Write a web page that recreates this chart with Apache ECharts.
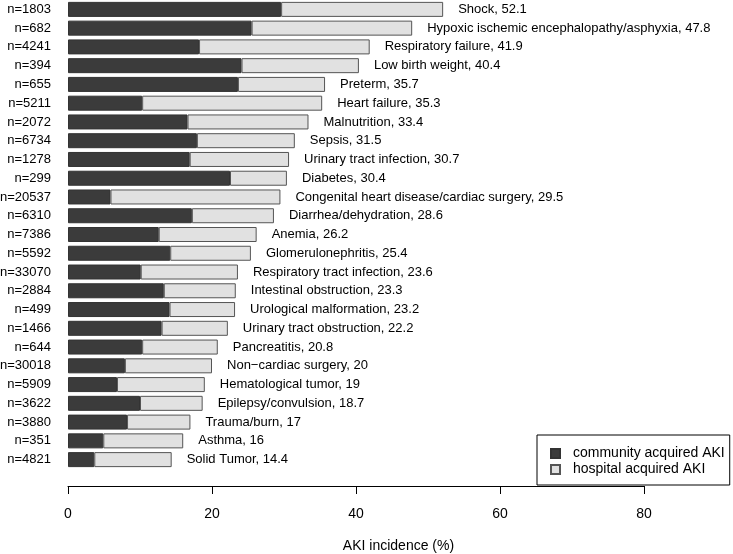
<!DOCTYPE html>
<html>
<head>
<meta charset="utf-8">
<script src="https://cdn.jsdelivr.net/npm/echarts@6/dist/echarts.min.js"></script>
<style>html,body{margin:0;padding:0;background:#fff}#c{width:733px;height:554px}</style>
</head>
<body>
<div id="c"></div>
<script>
const categories = ["Shock","Hypoxic ischemic encephalopathy/asphyxia","Respiratory failure","Low birth weight","Preterm","Heart failure","Malnutrition","Sepsis","Urinary tract infection","Diabetes","Congenital heart disease/cardiac surgery","Diarrhea/dehydration","Anemia","Glomerulonephritis","Respiratory tract infection","Intestinal obstruction","Urological malformation","Urinary tract obstruction","Pancreatitis","Non\u2212cardiac surgery","Hematological tumor","Epilepsy/convulsion","Trauma/burn","Asthma","Solid Tumor"];
const nValues = [1803,682,4241,394,655,5211,2072,6734,1278,299,20537,6310,7386,5592,33070,2884,499,1466,644,30018,5909,3622,3880,351,4821];
const totals = [52.1,47.8,41.9,40.4,35.7,35.3,33.4,31.5,30.7,30.4,29.5,28.6,26.2,25.4,23.6,23.3,23.2,22.2,20.8,20,19,18.7,17,16,14.4];
const community = [29.6,25.5,18.2,24.1,23.6,10.3,16.6,17.9,16.9,22.5,5.9,17.2,12.6,14.2,10.1,13.3,14.1,13.0,10.3,7.9,6.8,10.0,8.2,4.9,3.65];
const hospital = [22.5,22.3,23.7,16.3,12.1,25.0,16.8,13.6,13.8,7.9,23.6,11.4,13.6,11.2,13.5,10.0,9.1,9.2,10.5,12.1,12.2,8.7,8.8,11.1,10.75];
const xTicks = [0,20,40,60,80];

const FONT = "Liberation Sans, Arial, Helvetica, sans-serif";
const chart = echarts.init(document.getElementById('c'), null, {renderer:'canvas'});
chart.setOption({
  animation: false,
  textStyle: {fontFamily: FONT},
  grid: [
    {left: 68, width: 661, top: 0, height: 469, outerBoundsMode: 'none', containLabel: false},
    {left: 68, width: 576, top: 0, height: 486, outerBoundsMode: 'none', containLabel: false}
  ],
  legend: {
    orient: 'vertical', left: 537, top: 435,
    padding: [11, 5, 8, 13],
    borderColor: '#000', borderWidth: 1,
    itemWidth: 9, itemHeight: 9, itemGap: 1,
    icon: 'rect',
    textStyle: {fontSize: 14, color: '#000', fontFamily: FONT, lineHeight: 15, padding: [0,0,0,8]},
    data: ['community acquired AKI', 'hospital acquired AKI']
  },
  xAxis: [
    {type: 'value', gridIndex: 0, min: 0, max: 91.8, show: true,
     axisLine: {show: false}, axisTick: {show: false}, axisLabel: {show: false}, splitLine: {show: false},
     name: 'AKI incidence (%)', nameLocation: 'middle', nameGap: 70,
     nameTextStyle: {fontSize: 14, color: '#000', fontFamily: FONT, align: 'center'}},
    {type: 'value', gridIndex: 1, min: xTicks[0], max: xTicks[xTicks.length-1], interval: 20,
     axisLine: {show: true, lineStyle: {color: '#000', width: 1}},
     axisTick: {show: true, length: 8, lineStyle: {color: '#000'}},
     splitLine: {show: false},
     axisLabel: {fontSize: 14, color: '#000', margin: 21, fontFamily: FONT}
    }
  ],
  yAxis: [
    {type: 'category', gridIndex: 0, data: categories, inverse: true,
     axisLine: {show: false}, axisTick: {show: false},
     axisLabel: {fontSize: 13, color: '#000', margin: 17, fontFamily: FONT,
       formatter: (v, i) => 'n=' + nValues[i]}
    },
    {type: 'value', gridIndex: 1, show: false, min: 0, max: 1}
  ],
  series: [
    {name: 'community acquired AKI', type: 'bar', stack: 'a', xAxisIndex: 0, yAxisIndex: 0,
     barWidth: 15, data: community,
     itemStyle: {color: '#3b3b3b', borderColor: '#333', borderWidth: 1}},
    {name: 'hospital acquired AKI', type: 'bar', stack: 'a', xAxisIndex: 0, yAxisIndex: 0,
     barWidth: 15, data: hospital,
     itemStyle: {color: '#e1e1e1', borderColor: '#555', borderWidth: 1},
     label: {show: true, position: 'right', distance: 15, fontSize: 13, color: '#000', fontFamily: FONT,
       formatter: p => categories[p.dataIndex] + ', ' + totals[p.dataIndex]}}
  ]
});
</script>
</body>
</html>
